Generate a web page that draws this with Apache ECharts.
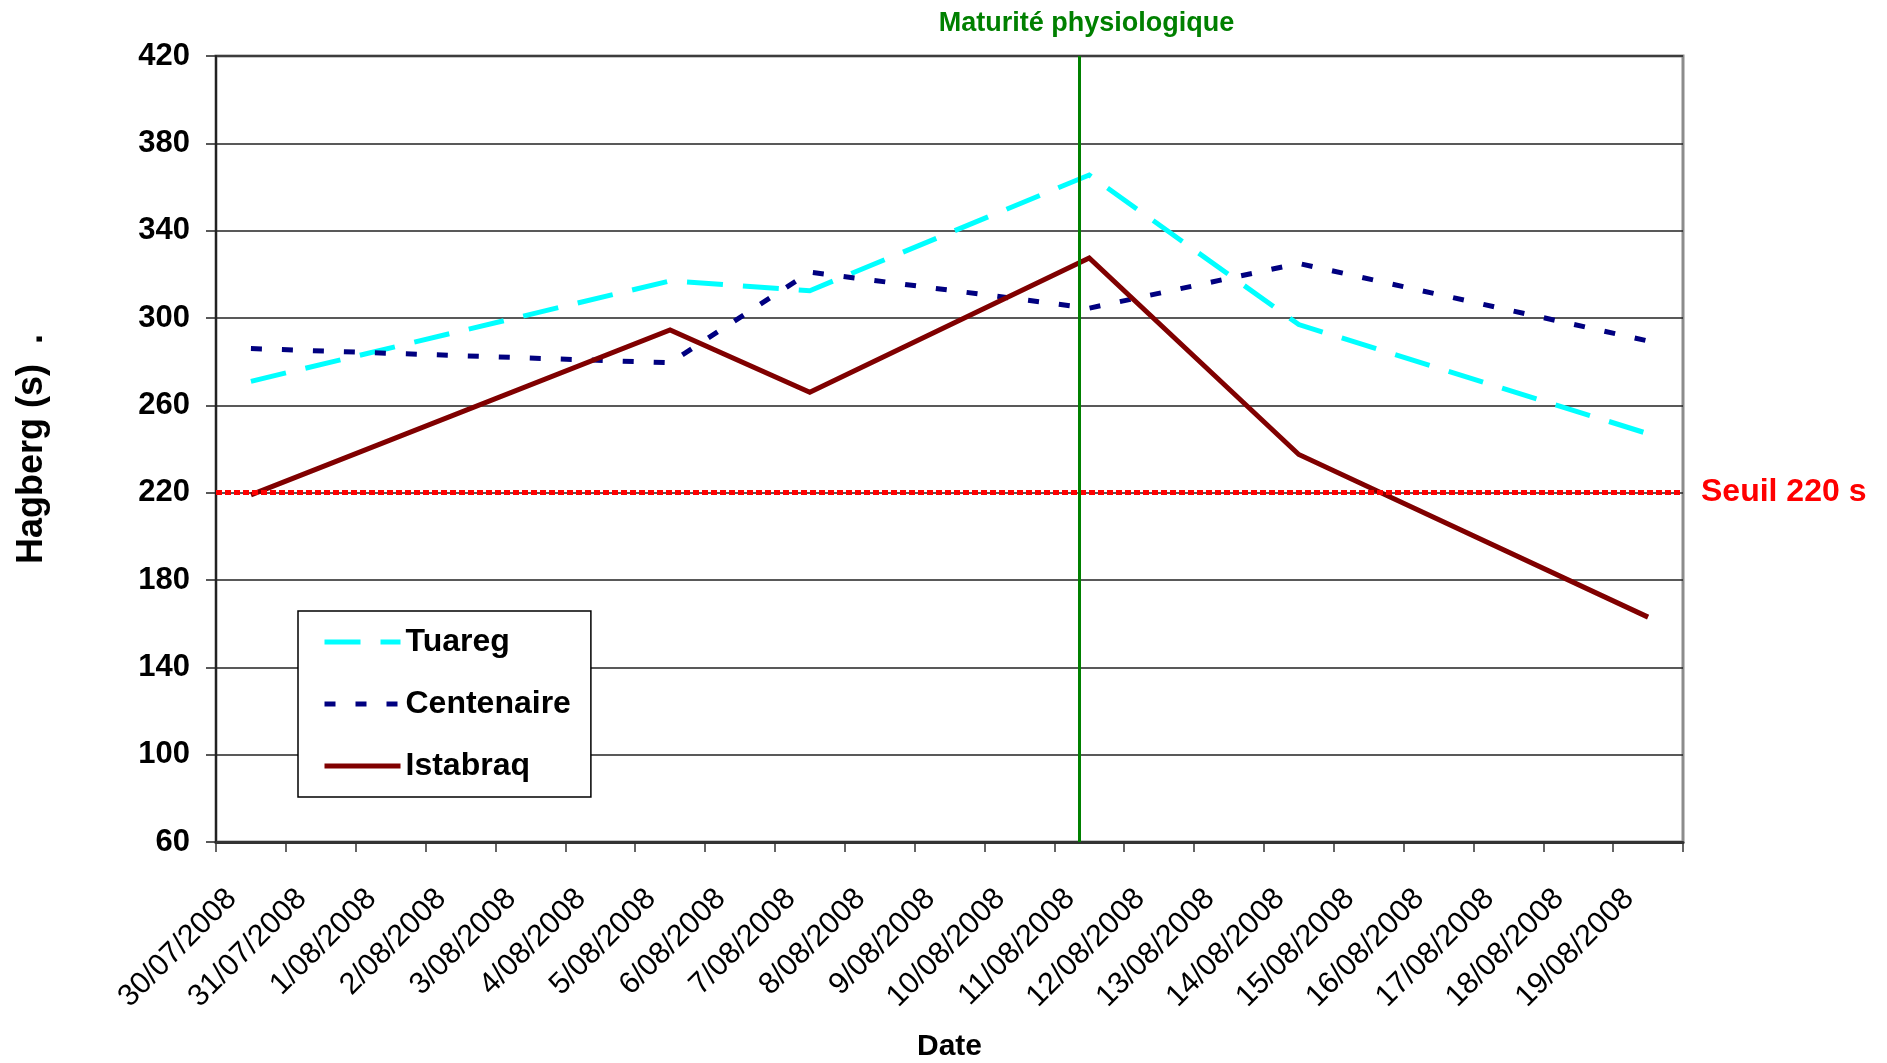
<!DOCTYPE html>
<html>
<head>
<meta charset="utf-8">
<script src="https://cdn.jsdelivr.net/npm/echarts@6/dist/echarts.min.js"></script>
<style>
html,body{margin:0;padding:0;background:#ffffff;overflow:hidden;}
#chart{width:1887px;height:1063px;}
</style>
</head>
<body>
<div id="chart"></div>
<script>
// ---------- data ----------
const categories = ['30/07/2008','31/07/2008','1/08/2008','2/08/2008','3/08/2008','4/08/2008','5/08/2008',
  '6/08/2008','7/08/2008','8/08/2008','9/08/2008','10/08/2008','11/08/2008','12/08/2008','13/08/2008',
  '14/08/2008','15/08/2008','16/08/2008','17/08/2008','18/08/2008','19/08/2008'];
const seriesNames = ['Tuareg','Centenaire','Istabraq'];
const tuareg     = [271, null, null, null, null, null, 317, null, 312.5, null, null, null, 365.5, null, null, 297, null, null, null, null, 247];
const centenaire = [286, null, null, null, null, null, 279.5, null, 321, null, null, null, 304.5, null, null, 325, null, null, null, null, 289.5];
const istabraq   = [219, null, null, null, null, null, 294.5, null, 266, null, null, null, 327.5, null, null, 237.5, null, null, null, null, 163];
const yMin = 60, yMax = 420, yStep = 40;
const threshold = [220];            // Seuil 220 s
const maturity = [12.36];           // position on the date axis (in days from 30/07 band start)
const thresholdLabel = 'Seuil 220 s';
const maturityLabel = 'Maturité physiologique';
const yTitle = 'Hagberg (s)  .';
const xTitle = 'Date';

// ---------- chart ----------
const font = '"Liberation Sans", Arial, Helvetica, sans-serif';
const chart = echarts.init(document.getElementById('chart'), null, {renderer:'canvas'});

function lineSeries(name, data, color, dash) {
  return {
    name, type:'line', data, connectNulls:true, symbol:'none', showSymbol:false,
    xAxisIndex:0, yAxisIndex:0, z:4, silent:true,
    lineStyle:{color, width:5, type:dash, cap:'butt', join:'miter'},
    itemStyle:{color},
    emphasis:{disabled:true}
  };
}

const option = {
  animation:false,
  backgroundColor:'#ffffff',
  textStyle:{fontFamily:font},
  grid:{left:216, right:204, top:56, bottom:221, show:true, borderColor:'#8c8c8c', borderWidth:3,
        backgroundColor:'transparent', containLabel:false, outerBoundsMode:'none'},
  legend:{
    data:seriesNames, orient:'vertical', left:298, top:611,
    padding:[13,20,13,24], itemGap:26, itemWidth:76, itemHeight:14,
    backgroundColor:'#ffffff', borderColor:'#000000', borderWidth:1.5,
    textStyle:{fontSize:32, fontWeight:'bold', color:'#000', fontFamily:font, lineHeight:36},
    itemStyle:{opacity:0},
    lineStyle:{width:5},
    selectedMode:false
  },
  xAxis:[{
    type:'category', data:categories, boundaryGap:true,
    name:xTitle, nameLocation:'middle', nameGap:190,
    nameTextStyle:{fontSize:30, fontWeight:'bold', color:'#000', fontFamily:font},
    axisLine:{show:true, lineStyle:{color:'#333', width:3}},
    axisTick:{show:true, length:10, inside:false, lineStyle:{color:'#333', width:1.5}},
    axisLabel:{interval:0, rotate:45, margin:33, fontSize:30.5, color:'#000', fontFamily:font, padding:[0,27,0,0]},
    splitLine:{show:false}
  },{
    type:'value', min:0, max:21, show:false, gridIndex:0
  }],
  yAxis:{
    type:'value', min:yMin, max:yMax, interval:yStep,
    name:yTitle, nameLocation:'middle', nameGap:166,
    nameTextStyle:{fontSize:36, fontWeight:'bold', color:'#000', fontFamily:font},
    axisLine:{show:true, lineStyle:{color:'#222', width:2}},
    axisTick:{show:true, length:10, inside:false, lineStyle:{color:'#222', width:1.5}},
    axisLabel:{margin:26, fontSize:31, fontWeight:'bold', color:'#000', fontFamily:font},
    splitLine:{show:true, lineStyle:{color:'#222', width:1.5}}
  },
  series:[
    {
      name:'__threshold', type:'line', data:[], xAxisIndex:0, yAxisIndex:0, z:3, silent:true,
      markLine:{
        silent:true, symbol:['none','none'], animation:false,
        lineStyle:{color:'#ff0000', width:5, type:[6,3], cap:'butt'},
        label:{show:true, position:'end', formatter:thresholdLabel, color:'#ff0000', fontSize:32, fontWeight:'bold', fontFamily:font, distance:18},
        emphasis:{disabled:true},
        data:threshold.map(v => ({yAxis:v}))
      }
    },
    lineSeries(seriesNames[0], tuareg, '#00ffff', [36,20]),
    lineSeries(seriesNames[1], centenaire, '#000080', [11,20]),
    lineSeries(seriesNames[2], istabraq, '#800000', 'solid'),
    {
      name:'__maturity', type:'line', data:[], xAxisIndex:1, yAxisIndex:0, z:5, silent:true,
      markLine:{
        silent:true, symbol:['none','none'], animation:false,
        lineStyle:{color:'#008000', width:3, type:'solid'},
        label:{show:true, position:'end', formatter:maturityLabel, color:'#008000', fontSize:27, fontWeight:'bold', fontFamily:font, distance:19, padding:[0,0,0,14]},
        emphasis:{disabled:true},
        data:maturity.map(v => ({xAxis:v}))
      }
    }
  ]
};
chart.setOption(option);
</script>
</body>
</html>
